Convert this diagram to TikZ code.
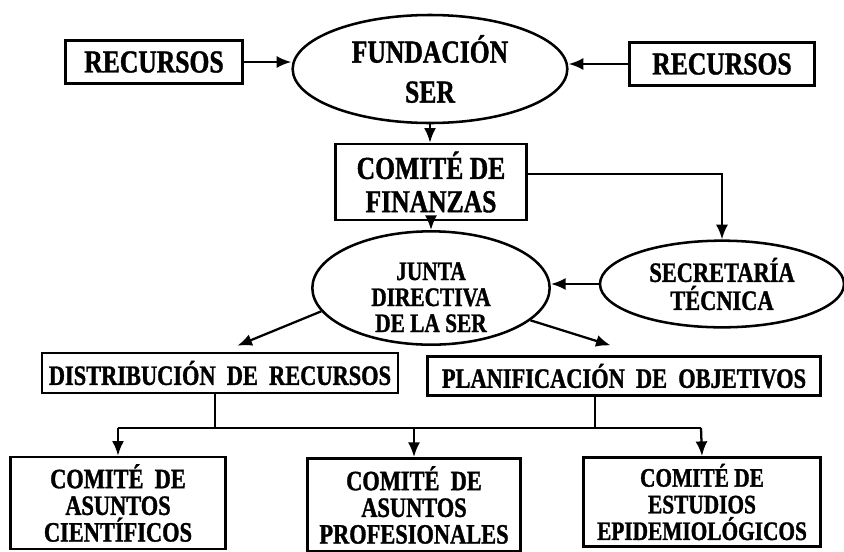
\documentclass[tikz,border=0pt]{standalone}
\usepackage{fontspec}
\setmainfont{Liberation Serif}[FakeStretch=0.8,BoldFeatures={FakeBold=1.2}]
\usetikzlibrary{shapes,arrows.meta,positioning}
\newcommand\tam[2]{\fontsize{#1}{#2}\selectfont}

\begin{document}
\begin{tikzpicture}[x=0.75pt,y=-0.75pt,>={Latex[length=11pt,width=9pt]},line width=1.7pt,
    caja/.style={rectangle,draw=black,line width=1.9pt,inner sep=0pt,align=center},
    elipse/.style={ellipse,draw=black,line width=1.9pt,inner sep=0pt,align=center}]
    \useasboundingbox (0,0) rectangle (844,551);

    % fuentes de recursos
    \node (recursosL) [caja,minimum width=133pt,minimum height=32pt,font=\bfseries\tam{24}{27}] at (154,62) {RECURSOS};
    \node (fundacion) [elipse,minimum width=206pt,minimum height=81pt,font=\bfseries\tam{24}{30}] at (430,69) {FUNDACIÓN\\SER};
    \node (recursosR) [caja,minimum width=139pt,minimum height=32pt,font=\bfseries\tam{24}{27}] at (722,64) {RECURSOS};

    \node (finanzas) [caja,minimum width=143pt,minimum height=57pt,font=\bfseries\tam{24}{25}] at (431,182) {COMITÉ DE\\FINANZAS};
    \node (junta) [elipse,minimum width=178pt,minimum height=85pt] at (431,288) {};
    \node (juntaTxt) [align=center,inner sep=0pt,font=\bfseries\tam{20}{19.5}] at ([yshift=-7pt]junta.center) {JUNTA\\DIRECTIVA\\DE LA SER};
    \node (secretaria) [elipse,minimum width=183pt,minimum height=65pt,font=\bfseries\tam{21}{21}] at (722,284) {SECRETARÍA\\TÉCNICA};

    \node (dist) [caja,minimum width=267pt,minimum height=30pt,font=\bfseries\tam{21}{22}] at (220,373) {DISTRIBUCIÓN \ DE \ RECURSOS};
    \node (plan) [caja,minimum width=295pt,minimum height=29pt,font=\bfseries\tam{21}{22}] at (624,376) {PLANIFICACIÓN \ DE \ OBJETIVOS};

    % comites
    \node (cientificos) [caja,minimum width=161pt,minimum height=69pt,font=\bfseries\tam{21}{20}] at (118,503) {COMITÉ \ DE\\ASUNTOS\\CIENTÍFICOS};
    \node (prof) [caja,minimum width=160pt,minimum height=70pt,font=\bfseries\tam{21}{20}] at (414,505) {COMITÉ \ DE\\ASUNTOS\\PROFESIONALES};
    \node (epid) [caja,minimum width=178pt,minimum height=67pt,font=\bfseries\tam{20}{20}] at (702,502) {COMITÉ DE\\ESTUDIOS\\EPIDEMIOLÓGICOS};

    \draw[->] (recursosL.east) -- (recursosL.east -| fundacion.west);
    \draw[->] (recursosR.west) -- (recursosR.west -| fundacion.east);
    \draw[->] (fundacion.south) -- (fundacion.south |- finanzas.north);
    \draw[->] ([yshift=6pt]finanzas.east) -| (secretaria.north);
    \draw[->] (finanzas.south) -- (finanzas.south |- junta.north);
    \draw[->] (secretaria.west) -- (secretaria.west -| junta.east);
    \draw[->] (junta.192) -- ([xshift=13pt,yshift=4.5pt]dist.north);
    \draw[->] (junta.342) -- ([xshift=-10pt,yshift=7.5pt]plan.north);

    \coordinate (busL) at (118,428);
    \coordinate (busR) at (701,428);
    \draw ([xshift=-4pt]dist.south) -- ([xshift=-4pt]dist.south |- busL);
    \draw ([xshift=-22pt]plan.south) -- ([xshift=-22pt]plan.south |- busL);
    \draw (busL) -- (busR);
    \draw[->] (busL) -- (cientificos.north);
    \draw[->] (prof.north |- busL) -- (prof.north);
    \draw[->] (busR) -- (epid.north);

\end{tikzpicture}
\end{document}
